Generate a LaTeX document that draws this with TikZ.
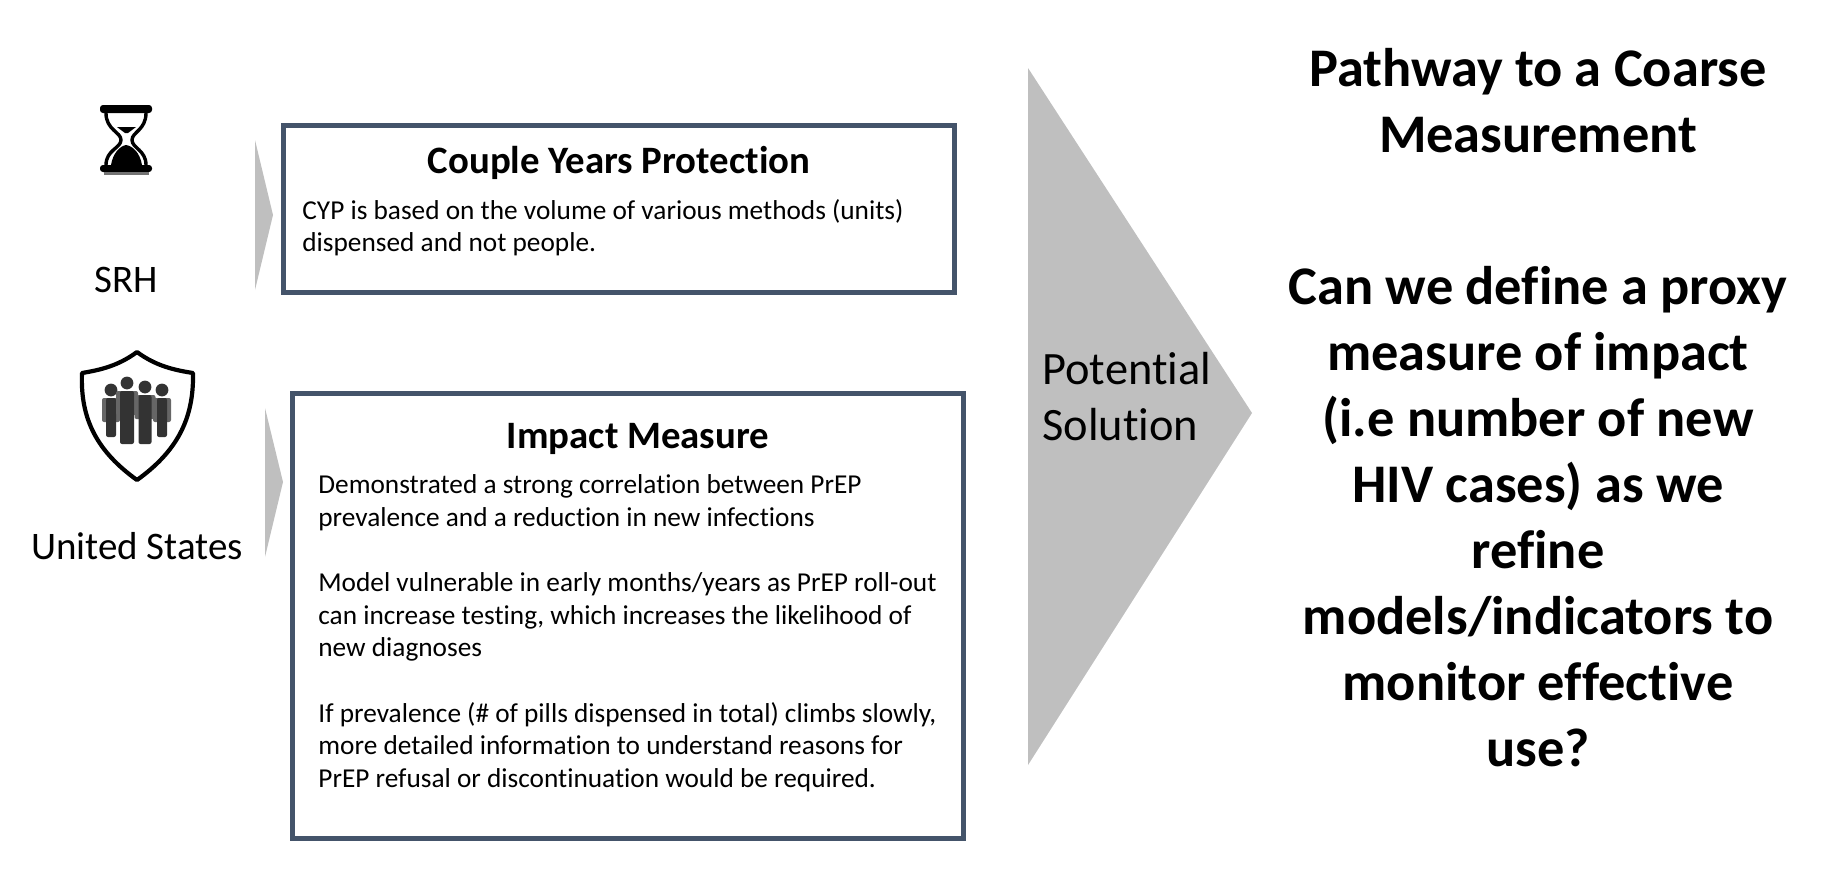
\documentclass[tikz,border=0pt]{standalone}
\usepackage{fontspec}
\setmainfont{Carlito}[Ligatures=NoCommon]
\usetikzlibrary{positioning}
\definecolor{slate}{HTML}{44546A}
\definecolor{arrowgray}{HTML}{BFBFBF}
\tikzset{
    infobox/.style={draw=slate, line width=2.5pt, fill=white, inner sep=0pt},
    boxtitle/.style={font=\fontsize{19.4}{23}\selectfont\bfseries, inner sep=0pt},
    boxbody/.style={font=\fontsize{13.65}{16.3}\selectfont, align=left, anchor=north west, inner sep=0pt},
    sidelabel/.style={font=\fontsize{19.5}{23}\selectfont, inner sep=0pt},
    bigtext/.style={font=\fontsize{27.2}{33}\selectfont\bfseries, align=center, inner sep=0pt},
    sand/.style={fill=black, draw=none}
}
\begin{document}
\begin{tikzpicture}[x=0.5pt, y=-0.5pt, font=\rmfamily]
    \useasboundingbox (0,0) rectangle (1846,880);

    % Pfeile
    \fill [arrowgray] (255,140) -- (273,215) -- (255,290) -- cycle;
    \fill [arrowgray] (265,408) -- (283,482) -- (265,557) -- cycle;
    \fill [arrowgray] (1028,68) -- (1252,413) -- (1028,765) -- cycle;

    % Kaesten
    \node [infobox, minimum width=335.5pt, minimum height=83.5pt] (boxCYP) at (618.5,209) {};
    \node [infobox, minimum width=335.5pt, minimum height=222.5pt] (boxImpact) at (627.5,615.5) {};

    \node [boxtitle] (titleCYP) at (619,163) {Couple Years Protection};
    \node [boxbody] (bodyCYP) at (302,199) {CYP is based on the volume of various methods (units)\\
        dispensed and not people.};

    \node [boxtitle] (titleImpact) at (638,439) {Impact Measure};
    \node [boxbody] (bodyImpact) at (318,474.5) {Demonstrated a strong correlation between PrEP\\
        prevalence and a reduction in new infections\\[16.3pt]
        Model vulnerable in early months/years as PrEP roll-out\\
        can increase testing, which increases the likelihood of\\
        new diagnoses\\[16.3pt]
        If prevalence (\# of pills dispensed in total) climbs slowly,\\
        more detailed information to understand reasons for\\
        PrEP refusal or discontinuation would be required.};

    % Beschriftung
    \node [sidelabel] (labelSRH) at (126,280) {SRH};
    \node [sidelabel] (labelUS) at (137,546) {United States};
    \node [font=\fontsize{23.2}{28}\selectfont, align=left, anchor=west, inner sep=0pt] (labelSolution) at (1042,397) {Potential\\Solution};
    \node [bigtext] (textPathway) at (1538,100.5) {Pathway to a Coarse\\Measurement};
    \node [bigtext] (textProxy) at (1538,517) {Can we define a proxy\\measure of impact\\(i.e number of new\\HIV cases) as we\\refine\\models/indicators to\\monitor effective\\use?};

    % Sanduhr
    \draw [line width=1.7pt, line cap=round] (106,113) .. controls (106,130) and (121,132) .. (121,140)
        .. controls (121,148) and (106,150) .. (106,165);
    \draw [line width=1.7pt, line cap=round] (146,113) .. controls (146,130) and (132,132) .. (132,140)
        .. controls (132,148) and (146,150) .. (146,165);
    \fill [black, rounded corners=1.5pt] (100,105) rectangle (152,113);
    \fill [black, rounded corners=1.5pt] (100,165) rectangle (152,172);
    \fill [black!55] (104,172) rectangle (149,175);
    \fill [sand] (117,127) -- (136,127) -- (128,133) -- (125,133) -- cycle;
    \fill [sand] (111,165) .. controls (113,153) and (120,146) .. (126,145)
        .. controls (133,146) and (140,153) .. (142,165) -- cycle;

    % Schild
    \draw [line width=2.1pt, line join=round] (137,352) .. controls (118,366) and (100,370) .. (82,373)
        .. controls (80,420) and (98,452) .. (137,480)
        .. controls (176,452) and (194,420) .. (193,373)
        .. controls (174,370) and (156,366) .. (137,352) -- cycle;

    % Personen
    \foreach \px/\py/\bw/\bh in {111/390/10/39, 162/390/10/39, 127/383/14/53, 145/387/13/49} {
        \fill [black!80] (\px,\py) circle (3.2pt);
        \fill [black!60, rounded corners=1pt] ({\px-\bw/2-4},{\py+8}) rectangle ({\px+\bw/2+4},{\py+32});
        \fill [black!80, rounded corners=1pt] ({\px-\bw/2},{\py+8}) rectangle ({\px+\bw/2},{\py+8+\bh});
    }
\end{tikzpicture}
\end{document}
